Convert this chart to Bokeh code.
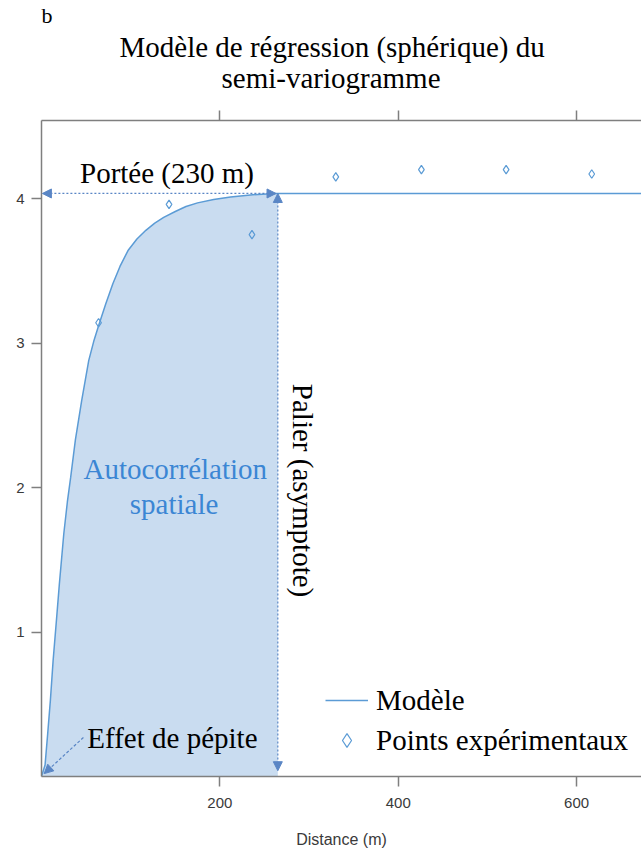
import numpy as np
from bokeh.plotting import figure
from bokeh.models import (Range1d, LinearAxis, FixedTicker, Label, Arrow,
                          NormalHead, Legend, LegendItem, Title)
from bokeh.embed import file_html
from bokeh.resources import INLINE

# ---- data ----
model_dist = [0, 4, 7, 10, 13, 16.6, 20, 25, 29, 32.7, 38, 45, 53, 58.5, 64,
              72, 80, 88, 97, 107, 117, 127, 137, 150, 162, 175, 193, 212,
              237, 262, 673]
model_gamma = [0, 0.08, 0.3, 0.53, 0.8, 1.07, 1.33, 1.68, 1.9, 2.07, 2.33,
               2.6, 2.88, 3.01, 3.12, 3.27, 3.41, 3.53, 3.64, 3.72, 3.78, 3.83,
               3.87, 3.91, 3.945, 3.97, 3.993, 4.01, 4.026, 4.035, 4.035]
exp_dist = [64, 143, 236, 330, 426, 521, 617]
exp_gamma = [3.14, 3.96, 3.75, 4.15, 4.20, 4.20, 4.17]
x_ticks = [200, 400, 600]
y_ticks = [1, 2, 3, 4]
range_dist = 265      # end of the autocorrelated part (Portée / Palier line)
sill = 4.035
nugget = 0.02
title_line1 = "Modèle de régression (sphérique) du"
title_line2 = "semi-variogramme"
panel_letter = "b"
x_label = "Distance (m)"

SERIF = "Liberation Serif"
SANS = "Liberation Sans"
BLUE = "#5b9bd5"
ARROW = "#5a86c5"
FILL = "#c9dcf0"
AXIS = "#7f7f7f"

p = figure(width=641, height=852, output_backend="svg", toolbar_location=None,
           title_location=None,
           x_range=Range1d(0, 672.8), y_range=Range1d(0, 4.54),
           min_border_left=41, min_border_right=0, min_border_top=120,
           min_border_bottom=76)
p.outline_line_color = None
p.grid.visible = False
p.background_fill_color = "white"

# fill under the model up to the range
d = np.array(model_dist, dtype=float)
g = np.array(model_gamma, dtype=float)
mask = d < range_dist
fx = np.append(d[mask], range_dist)
fy = np.append(g[mask], np.interp(range_dist, d, g))
p.varea(x=fx, y1=0, y2=fy, fill_color=FILL)

line_r = p.line(model_dist, model_gamma, line_color=BLUE, line_width=1.5)
pts_r = p.scatter(exp_dist, exp_gamma, marker="diamond", size=8.5,
                  fill_color=None, line_color=BLUE, line_width=1.2)

# axes
for ax in p.xaxis + p.yaxis:
    ax.axis_line_color = AXIS
    ax.axis_line_width = 1.5
    ax.major_tick_line_color = AXIS
    ax.major_tick_line_width = 1.5
    ax.major_tick_in = 0
    ax.major_tick_out = 10
    ax.minor_tick_line_color = None
    ax.major_label_text_font = SANS
    ax.major_label_text_color = "#3a3a3a"

p.xaxis.ticker = FixedTicker(ticks=x_ticks)
p.xaxis.major_label_text_font_size = "15px"
p.xaxis.major_label_standoff = 11
p.xaxis.axis_label = x_label
p.xaxis.axis_label_text_font = SANS
p.xaxis.axis_label_text_font_style = "normal"
p.xaxis.axis_label_text_font_size = "16px"
p.xaxis.axis_label_text_color = "#3a3a3a"
p.xaxis.axis_label_standoff = 20

p.yaxis.ticker = FixedTicker(ticks=y_ticks)
p.yaxis.major_label_text_font_size = "15px"
p.yaxis.major_label_standoff = 7

# top axis: ticks only (blank labels keep the spacing above it)
top = LinearAxis(ticker=FixedTicker(ticks=x_ticks), axis_line_color=AXIS,
                 axis_line_width=1.5, major_tick_line_color=AXIS,
                 major_tick_line_width=1.5, major_tick_in=0, major_tick_out=10,
                 minor_tick_line_color=None,
                 major_label_overrides={t: " " for t in x_ticks},
                 major_label_text_font=SANS,
                 major_label_text_font_size="10px", major_label_standoff=3)
p.add_layout(top, "above")
p.add_layout(Title(text=title_line2, align="left", offset=180, text_font=SERIF,
                   text_font_size="29px", text_font_style="normal",
                   standoff=0, text_color="black"), "above")
p.add_layout(Title(text=title_line1, align="left", offset=78, text_font=SERIF,
                   text_font_size="29px", text_font_style="normal",
                   standoff=-6, text_color="black"), "above")
p.add_layout(Title(text=panel_letter, align="left", offset=0, text_font=SERIF,
                   text_font_size="22px", text_font_style="normal",
                   vertical_align="top", standoff=3, text_color="black"),
             "above")

# arrows
def head():
    return NormalHead(size=9, fill_color=ARROW, line_color=ARROW)

p.add_layout(Arrow(start=head(), end=head(), x_start=1, y_start=sill,
                   x_end=range_dist - 2, y_end=sill, line_color=ARROW,
                   line_dash="2 2", line_width=1.2))
p.add_layout(Arrow(start=head(), end=head(), x_start=range_dist, y_start=sill,
                   x_end=range_dist, y_end=nugget + 0.02, line_color=ARROW,
                   line_dash="2 2", line_width=1.2))
p.add_layout(Arrow(end=head(), x_start=47, y_start=0.27, x_end=3,
                   y_end=nugget, line_color=ARROW, line_dash="3 2",
                   line_width=1.2))

def lab(text, x, y, size="29px", color="black", align="center", angle=0):
    p.add_layout(Label(x=x, y=y, text=text, text_font=SERIF,
                       text_font_size=size, text_color=color,
                       text_align=align, text_baseline="middle", angle=angle))

lab("Portée (230 m)", 140.7, 4.18)
lab("Autocorrélation", 150, 2.131, color="#3b86d4")
lab("spatiale", 148.6, 1.889, color="#3b86d4")
lab("Palier (asymptote)", 293.2, 1.979, angle=-np.pi / 2)
lab("Effet de pépite", 146.8, 0.263)

legend = Legend(items=[LegendItem(label="Modèle", renderers=[line_r]),
                       LegendItem(label="Points expérimentaux", renderers=[pts_r])],
                location=(284, 19), padding=0, margin=0, spacing=6,
                glyph_width=43, glyph_height=34, label_height=34,
                label_standoff=8, label_text_font=SERIF,
                label_text_font_size="29px", label_text_color="black",
                background_fill_alpha=0, border_line_color=None)
p.add_layout(legend)

open("out.html", "w").write(file_html(p, INLINE))
